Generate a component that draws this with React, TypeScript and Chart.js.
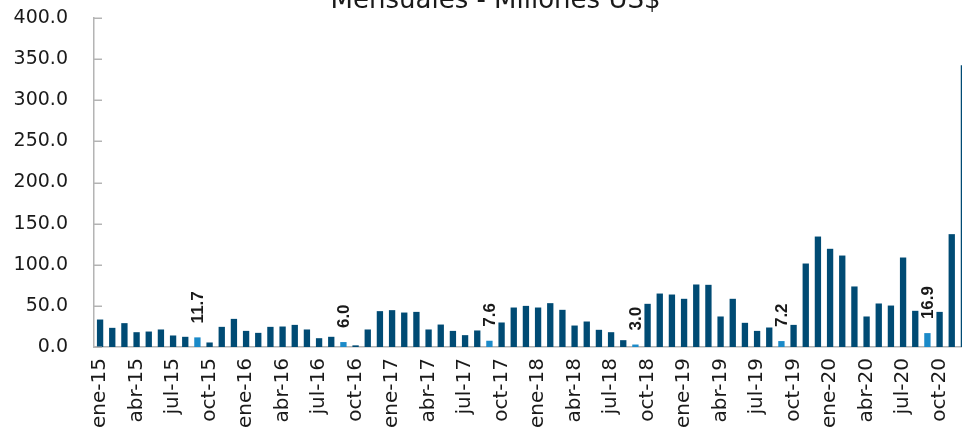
import React, { useEffect, useRef } from 'react';
import { Chart, registerables } from 'chart.js';

Chart.register(...registerables);

const months = ['ene', 'feb', 'mar', 'abr', 'may', 'jun', 'jul', 'ago', 'sep', 'oct', 'nov', 'dic'];
const years = ['15', '16', '17', '18', '19', '20'];
const categories = years.flatMap((y) => months.map((m) => `${m}-${y}`));

const values2015 = [33.4, 23.3, 29.0, 18.0, 18.8, 21.3, 14.0, 12.4, 11.7, 5.5, 24.5, 34.2];
const values2016 = [19.6, 17.2, 24.5, 24.9, 26.9, 21.3, 10.7, 12.4, 6.0, 2.0, 21.3, 43.6];
const values2017 = [44.8, 41.9, 42.7, 21.3, 27.3, 19.6, 14.4, 20.1, 7.6, 29.8, 48.0, 50.0];
const values2018 = [48.0, 53.3, 45.2, 26.1, 31.0, 20.9, 18.0, 8.3, 3.0, 52.5, 65.0, 63.8];
const values2019 = [58.6, 76.0, 75.6, 37.1, 58.6, 29.4, 19.6, 23.7, 7.2, 26.9, 101.5, 134.3];
const values2020 = [119.4, 111.2, 73.6, 37.1, 52.9, 50.4, 108.8, 44.0, 16.9, 42.7, 137.2, 342.5];

const values = [...values2015, ...values2016, ...values2017, ...values2018, ...values2019, ...values2020];

// September of each year is highlighted and labelled
const highlightMonth = 'sep';
const yTicks = [0, 50, 100, 150, 200, 250, 300, 350, 400];
const titleText = 'Mensuales - Millones US$';

const DARK = '#004b74';
const LIGHT = '#1b8ac8';
const AXIS = '#b4b4b4';
const TEXT = '#1a1a1a';

const overlayPlugin = {
  id: 'overlay',
  afterDraw(chart: any) {
    const ctx = chart.ctx;
    const area = chart.chartArea;
    const yScale = chart.scales.y;
    ctx.save();
    // inward tick marks
    ctx.strokeStyle = AXIS;
    ctx.lineWidth = 1.5;
    yTicks.forEach((v) => {
      const py = Math.round(yScale.getPixelForValue(v)) + 0.25;
      ctx.beginPath();
      ctx.moveTo(area.left, py);
      ctx.lineTo(area.left + 8, py);
      ctx.stroke();
    });
    // title
    ctx.fillStyle = TEXT;
    ctx.font = '26px "DejaVu Sans"';
    ctx.textAlign = 'center';
    ctx.textBaseline = 'alphabetic';
    ctx.fillText(titleText, 495.5, 8.3);
    // value labels for highlighted bars
    const meta = chart.getDatasetMeta(0);
    ctx.font = 'bold 17px "Liberation Sans"';
    ctx.textAlign = 'left';
    ctx.textBaseline = 'middle';
    categories.forEach((c, i) => {
      if (!c.startsWith(highlightMonth)) return;
      const el = meta.data[i];
      if (!el) return;
      ctx.save();
      ctx.translate(el.x + 1, el.y - 14);
      ctx.rotate(-Math.PI / 2);
      ctx.fillText(values[i].toFixed(1), 0, 0);
      ctx.restore();
    });
    ctx.restore();
  },
};

export default function App() {
  const ref = useRef<HTMLCanvasElement | null>(null);
  useEffect(() => {
    if (!ref.current) return;
    const chart = new Chart(ref.current, {
      type: 'bar',
      data: {
        labels: categories,
        datasets: [
          {
            data: values,
            backgroundColor: categories.map((c) => (c.startsWith(highlightMonth) ? LIGHT : DARK)),
            borderWidth: 0,
            barPercentage: 0.52,
            categoryPercentage: 1,
          },
        ],
      },
      options: {
        responsive: false,
        animation: false,
        devicePixelRatio: 1,
        layout: { padding: { top: 18, right: 2, left: 0, bottom: 0 } },
        plugins: {
          legend: { display: false },
          tooltip: { enabled: false },
          title: { display: false },
        },
        scales: {
          x: {
            grid: { display: false, drawTicks: false },
            border: { display: true, color: AXIS, width: 1.5 },
            afterFit: (s: any) => {
              s.height = 85;
              s.paddingLeft = 0;
              s.paddingRight = 0;
              s.paddingTop = 0;
              s.paddingBottom = 0;
            },
            ticks: {
              autoSkip: false,
              maxRotation: 90,
              minRotation: 90,
              padding: 11,
              color: TEXT,
              font: { family: '"DejaVu Sans"', size: 20 },
              callback: (_v: any, i: number) => (i % 3 === 0 ? categories[i] : ''),
            },
          },
          y: {
            min: 0,
            max: 400,
            grid: { display: false, drawTicks: false },
            border: { display: true, color: AXIS, width: 1.5 },
            afterFit: (s: any) => {
              s.width = 94;
              s.paddingTop = 0;
              s.paddingBottom = 0;
              s.paddingLeft = 0;
              s.paddingRight = 0;
            },
            ticks: {
              stepSize: 50,
              padding: 26,
              color: TEXT,
              font: { family: '"DejaVu Sans"', size: 19 },
              callback: (v: any) => Number(v).toFixed(1),
            },
          },
        },
      },
      plugins: [overlayPlugin],
    });
    return () => chart.destroy();
  }, []);
  return (
    <div
      style={{
        position: 'fixed',
        left: 0,
        top: 0,
        width: 962,
        height: 432,
        overflow: 'hidden',
        background: '#ffffff',
      }}
    >
      <canvas ref={ref} width={972} height={432} style={{ width: 972, height: 432, display: 'block' }} />
    </div>
  );
}
